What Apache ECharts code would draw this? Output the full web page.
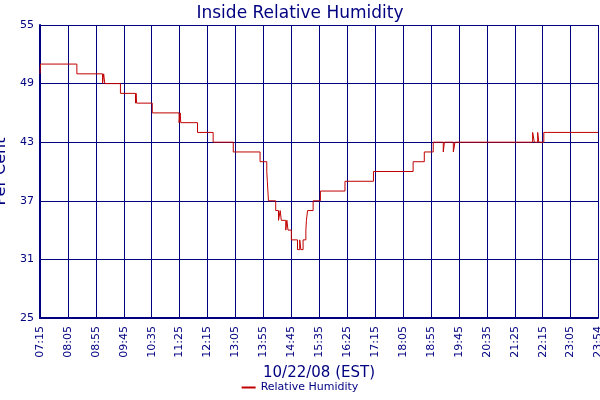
<!DOCTYPE html><html><head><meta charset="utf-8"><script src="https://cdn.jsdelivr.net/npm/echarts@6/dist/echarts.min.js"></script></head><body style="margin:0"><div id="c" style="width:600px;height:400px"></div><script>
var times=["07:15","07:16","08:21","09:07","09:09","09:11","09:39","10:06","10:07","10:08","10:36","11:24","11:26","11:27","11:29","11:57","12:25","13:01","13:49","14:01","14:02","14:03","14:04","14:17","14:22","14:25","14:27","14:35","14:37","14:39","14:45","14:56","15:00","15:02","15:06","15:09","15:11","15:12","15:14","15:24","15:37","16:21","17:12","18:23","18:43","18:59","19:17","19:19","19:35","19:38","21:57","22:00","22:06","22:08","22:17","22:23","23:54"];
var values=[50,51,50,49,50,49,48,47,48,47,46,45,46,45,45,44,43,42,41,40,39,38,37,36,35,36,35,34,35,34,33,32,33,32,33,33,34,35,36,37,38,39,40,41,42,43,42,43,42,43,44,43,44,43,44,44,44];
var yTicks=[25,31,37,43,49,55];
var t0=7*60+15;
function toMin(s){var p=s.split(":");return +p[0]*60+ +p[1]-t0;}
function toLabel(m){var t=Math.round(m)+t0,h=Math.floor(t/60),mm=t%60;return (h<10?"0":"")+h+":"+(mm<10?"0":"")+mm;}
var data=times.map(function(t,i){return [toMin(t),values[i]];});
var navy="#000080",font="DejaVu Sans";
echarts.init(document.getElementById("c")).setOption({
animation:false,
title:{text:"Inside Relative Humidity",left:"center",top:0,textStyle:{color:navy,fontFamily:font,fontSize:17,fontWeight:"normal"}},
legend:{bottom:2,left:"center",icon:"rect",itemWidth:14,itemHeight:2,textStyle:{color:navy,fontFamily:font,fontSize:11},data:["Relative Humidity"]},
grid:{left:40,right:2,top:25,bottom:82,containLabel:false,outerBoundsMode:"none"},
xAxis:{type:"value",min:0,max:toMin("23:54"),interval:50,name:"10/22/08 (EST)",nameLocation:"middle",nameGap:42,nameTextStyle:{color:navy,fontFamily:font,fontSize:15},
axisLine:{lineStyle:{color:navy,width:2}},axisTick:{show:false},splitLine:{show:true,lineStyle:{color:navy,width:1}},
axisLabel:{rotate:90,color:navy,fontFamily:font,fontSize:11,formatter:toLabel,showMaxLabel:true}},
yAxis:{type:"value",min:yTicks[0],max:yTicks[yTicks.length-1],interval:6,name:"Per Cent",nameLocation:"middle",nameGap:26,nameTextStyle:{color:navy,fontFamily:font,fontSize:16},
axisLine:{show:true,lineStyle:{color:navy,width:2}},axisTick:{show:false},splitLine:{lineStyle:{color:navy,width:1}},
axisLabel:{color:navy,fontFamily:font,fontSize:11,margin:6}},
series:[{name:"Relative Humidity",type:"line",step:"end",symbol:"none",data:data,lineStyle:{color:"#c00000",width:1},itemStyle:{color:"#c00000"}}]
});
</script></body></html>
